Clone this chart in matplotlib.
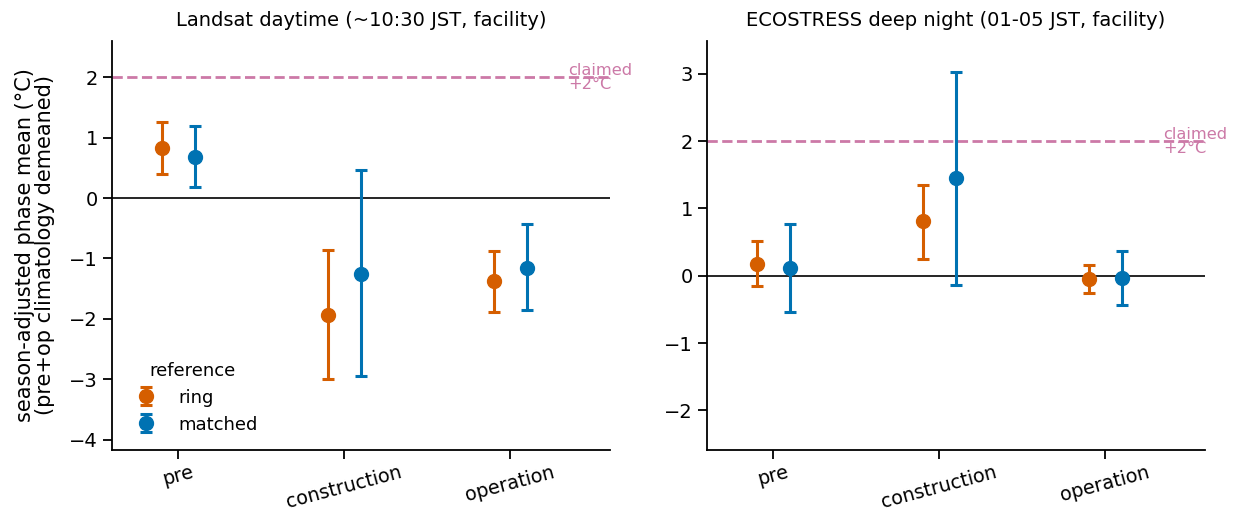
import numpy as np
import matplotlib
matplotlib.use('Agg')
import matplotlib.pyplot as plt

# phases on the x axis
phases = ['pre', 'construction', 'operation']

# Landsat daytime: mean, lower, upper
landsat_ring = [0.83, -1.93, -1.38]
landsat_ring_lo = [0.40, -3.00, -1.89]
landsat_ring_hi = [1.26, -0.86, -0.88]
landsat_matched = [0.68, -1.25, -1.16]
landsat_matched_lo = [0.18, -2.94, -1.86]
landsat_matched_hi = [1.19, 0.47, -0.43]

# ECOSTRESS deep night: mean, lower, upper
eco_ring = [0.17, 0.81, -0.05]
eco_ring_lo = [-0.15, 0.25, -0.26]
eco_ring_hi = [0.51, 1.35, 0.16]
eco_matched = [0.11, 1.45, -0.04]
eco_matched_lo = [-0.54, -0.14, -0.43]
eco_matched_hi = [0.77, 3.03, 0.37]

claimed = 2.0

plt.rcParams['font.family'] = ['DejaVu Sans']
plt.rcParams['axes.linewidth'] = 1.3
plt.rcParams['xtick.major.size'] = 6.5
plt.rcParams['ytick.major.size'] = 6.5
plt.rcParams['xtick.major.width'] = 1.3
plt.rcParams['ytick.major.width'] = 1.3
plt.rcParams['xtick.major.pad'] = 2.5
plt.rcParams['xtick.labelsize'] = 13.8
plt.rcParams['ytick.labelsize'] = 14

RING_C = '#D55E00'
MATCH_C = '#0072B2'
CLAIM_C = '#CC79A7'


def draw_panel(ax, ring, ring_lo, ring_hi, matched, matched_lo, matched_hi, title):
    x = np.arange(len(phases))
    ring = np.array(ring)
    matched = np.array(matched)
    ax.axhline(0, color='black', lw=1.2, zorder=1)
    ax.axhline(claimed, color=CLAIM_C, ls='--', lw=2.0, zorder=1)
    ax.errorbar(x - 0.1, ring,
                yerr=[ring - np.array(ring_lo), np.array(ring_hi) - ring],
                fmt='o', color=RING_C, ms=10, capsize=4, elinewidth=2.2,
                capthick=2.2, label='ring', zorder=3)
    ax.errorbar(x + 0.1, matched,
                yerr=[matched - np.array(matched_lo), np.array(matched_hi) - matched],
                fmt='o', color=MATCH_C, ms=10, capsize=4, elinewidth=2.2,
                capthick=2.2, label='matched', zorder=3)
    ax.text(2.35, claimed, 'claimed\n+2°C', color=CLAIM_C, fontsize=11.7,
            ha='left', va='center', linespacing=0.95)
    ax.set_xticks(x)
    ax.set_xticklabels(phases, rotation=15)
    ax.set_xlim(-0.4, 2.6)
    ax.set_title(title, fontsize=14, pad=11)
    ax.spines['top'].set_visible(False)
    ax.spines['right'].set_visible(False)


fig = plt.figure(figsize=(12.37, 5.11), dpi=100)
ax1 = fig.add_axes([0.0903, 0.1194, 0.4028, 0.8004])
ax2 = fig.add_axes([0.5713, 0.1194, 0.4028, 0.8004])

draw_panel(ax1, landsat_ring, landsat_ring_lo, landsat_ring_hi,
           landsat_matched, landsat_matched_lo, landsat_matched_hi,
           'Landsat daytime (~10:30 JST, facility)')
ax1.set_ylim(-4.17, 2.6)
ax1.set_yticks([-4, -3, -2, -1, 0, 1, 2])
ax1.set_ylabel('season-adjusted phase mean (°C)\n(pre+op climatology demeaned)',
               fontsize=15, linespacing=1.0, labelpad=10)
ax1.legend(title='reference', loc='lower left', frameon=False,
           fontsize=13, title_fontsize=13)

draw_panel(ax2, eco_ring, eco_ring_lo, eco_ring_hi,
           eco_matched, eco_matched_lo, eco_matched_hi,
           'ECOSTRESS deep night (01-05 JST, facility)')
ax2.set_ylim(-2.59, 3.49)
ax2.set_yticks([-2, -1, 0, 1, 2, 3])

fig.savefig('out.png', dpi=100)
